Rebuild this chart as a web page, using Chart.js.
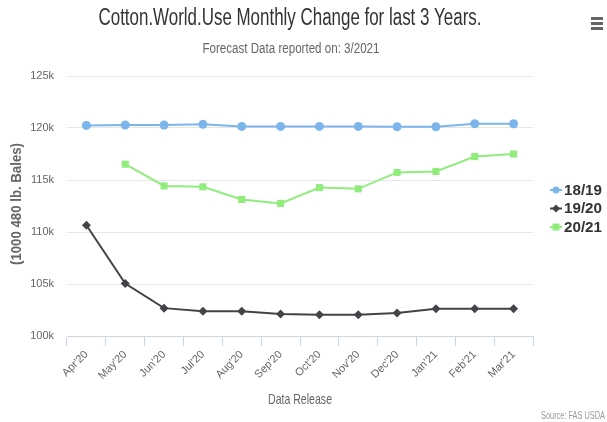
<!DOCTYPE html>
<html>
<head>
<meta charset="utf-8">
<script src="https://cdn.jsdelivr.net/npm/chart.js@4.4.1/dist/chart.umd.min.js"></script>
<style>
  html, body { margin: 0; padding: 0; background: #ffffff; }
  #wrap { width: 607px; height: 422px; position: relative; }
</style>
</head>
<body>
<div id="wrap"><canvas id="c" width="607" height="422"></canvas></div>
<script>
// Monthly releases of the world cotton use estimate
const releases = ["Apr'20", "May'20", "Jun'20", "Jul'20", "Aug'20", "Sep'20",
                  "Oct'20", "Nov'20", "Dec'20", "Jan'21", "Feb'21", "Mar'21"];

// Estimates per marketing year, in 1000 480 lb. bales
const use1819 = [120250, 120290, 120290, 120350, 120150, 120150,
                 120150, 120150, 120120, 120120, 120410, 120410];
const use1920 = [110650, 105050, 102680, 102380, 102380, 102120,
                 102050, 102050, 102220, 102620, 102620, 102620];
const use2021 = [null, 116520, 114430, 114340, 113130, 112750,
                 114270, 114150, 115730, 115820, 117250, 117500];

const seriesNames = ["18/19", "19/20", "20/21"];
const yTicks = [100000, 105000, 110000, 115000, 120000, 125000];

const SANS = "'Liberation Sans', Arial, sans-serif";

// Draws text squeezed horizontally to a given width (narrow typeface look)
function narrowText(ctx, text, x, y, width, font, color, align) {
  ctx.save();
  ctx.font = font;
  ctx.fillStyle = color;
  ctx.textBaseline = 'middle';
  ctx.textAlign = 'left';
  const w = ctx.measureText(text).width;
  const k = width / w;
  let left = x;
  if (align === 'center') left = x - width / 2;
  else if (align === 'right') left = x - width;
  ctx.translate(left, y);
  ctx.scale(k, 1);
  ctx.fillText(text, 0, 0);
  ctx.restore();
}

// Overlay: titles, axis titles, credits, legend and menu icon
const decorations = {
  id: 'decorations',
  afterDraw(chart) {
    const ctx = chart.ctx;
    const area = chart.chartArea;
    ctx.save();

    narrowText(ctx, 'Cotton.World.Use Monthly Change for last 3 Years.', 290, 19, 383,
               '23px ' + SANS, '#333333', 'center');
    narrowText(ctx, 'Forecast Data reported on: 3/2021', 291, 49, 177,
               '14px ' + SANS, '#666666', 'center');
    narrowText(ctx, 'Data Release', (area.left + area.right) / 2, 400, 64,
               '15px ' + SANS, '#666666', 'center');
    narrowText(ctx, 'Source: FAS USDA', 605, 416, 64,
               '10px ' + SANS, '#999999', 'right');

    // y axis title
    ctx.save();
    ctx.translate(17, 204);
    ctx.rotate(-Math.PI / 2);
    narrowText(ctx, '(1000 480 lb. Bales)', 0, 0, 122,
               'bold 14px ' + SANS, '#666666', 'center');
    ctx.restore();

    // menu icon
    ctx.fillStyle = '#666666';
    for (let i = 0; i < 3; i++) {
      ctx.fillRect(591, 17 + i * 5, 12, 3);
    }

    // legend
    const ds = chart.data.datasets;
    const lx = 550, ly = [190, 208.5, 227];
    ds.forEach((d, i) => {
      const y = ly[i];
      ctx.strokeStyle = d.borderColor;
      ctx.lineWidth = 2;
      ctx.beginPath();
      ctx.moveTo(lx, y);
      ctx.lineTo(lx + 12, y);
      ctx.stroke();
      drawMarker(ctx, d.pointStyle, lx + 6, y, d.borderColor);
      narrowText(ctx, d.label, lx + 14, y + 0.5, 38,
                 'bold 15px ' + SANS, '#333333', 'left');
    });
    ctx.restore();
  }
};

function drawMarker(ctx, style, x, y, color) {
  ctx.fillStyle = color;
  ctx.beginPath();
  if (style === 'circle') {
    ctx.arc(x, y, 3.5, 0, Math.PI * 2);
  } else if (style === 'rect') {
    ctx.rect(x - 3.5, y - 3.5, 7, 7);
  } else {
    ctx.moveTo(x, y - 4); ctx.lineTo(x + 4, y);
    ctx.lineTo(x, y + 4); ctx.lineTo(x - 4, y);
    ctx.closePath();
  }
  ctx.fill();
}

const series = [
  { label: seriesNames[0], data: use1819, color: '#7cb5ec', style: 'circle', r: 4.5 },
  { label: seriesNames[1], data: use1920, color: '#434348', style: 'rectRot', r: 4.5 },
  { label: seriesNames[2], data: use2021, color: '#90ed7d', style: 'rect', r: 5 }
];

new Chart(document.getElementById('c'), {
  type: 'line',
  data: {
    labels: releases,
    datasets: series.map(s => ({
      label: s.label,
      data: s.data,
      borderColor: s.color,
      backgroundColor: s.color,
      pointBackgroundColor: s.color,
      pointBorderColor: s.color,
      pointBorderWidth: 0,
      pointStyle: s.style,
      pointRadius: s.r,
      borderWidth: 2,
      tension: 0,
      spanGaps: false
    }))
  },
  plugins: [decorations],
  options: {
    responsive: false,
    animation: false,
    events: [],
    layout: { padding: { top: 76, right: 74, bottom: 0, left: 0 } },
    plugins: {
      legend: { display: false },
      title: { display: false },
      tooltip: { enabled: false }
    },
    scales: {
      x: {
        offset: true,
        grid: {
          offset: true,
          drawOnChartArea: false,
          drawTicks: true,
          tickLength: 10,
          color: '#ccd6eb'
        },
        border: { display: true, color: '#ccd6eb', width: 1 },
        ticks: {
          color: '#666666',
          font: { size: 11, family: SANS },
          minRotation: 45,
          maxRotation: 45,
          autoSkip: false,
          padding: 2
        },
        afterFit(scale) { scale.height = 86; }
      },
      y: {
        min: 100000,
        max: 125000,
        afterBuildTicks(scale) { scale.ticks = yTicks.map(v => ({ value: v })); },
        grid: { color: '#e6e6e6', drawTicks: false },
        border: { display: false },
        ticks: {
          color: '#666666',
          font: { size: 11, family: SANS },
          padding: 13,
          callback: v => (v / 1000) + 'k'
        },
        afterFit(scale) { scale.width = 67; }
      }
    }
  }
});
</script>
</body>
</html>
